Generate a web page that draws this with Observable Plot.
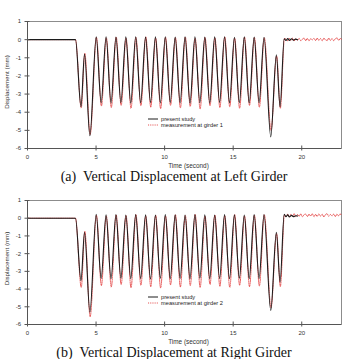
<!DOCTYPE html>
<html>
<head>
<meta charset="utf-8">
<script src="https://cdn.jsdelivr.net/npm/d3@7"></script>
<script src="https://cdn.jsdelivr.net/npm/@observablehq/plot@0.6"></script>
<style>
  body { margin: 0; background: #fff; }
  #page { position: relative; width: 344px; height: 359px; overflow: hidden; background: #fff; }
  .panel { position: absolute; left: 0; }
  .caption {
    position: absolute; left: 0; width: 344px; padding-left: 4px; box-sizing: border-box;
    text-align: center; white-space: pre;
    font-family: "Liberation Serif", "Times New Roman", serif; font-size: 14px; line-height: 14px; color: #111;
  }
  .legend { position: absolute; left: 148px; }
  .legend text { font-family: "Liberation Sans", Arial, sans-serif; font-size: 5.7px; fill: #222; }
</style>
</head>
<body>
<div id="page"></div>
<script>
// Axis setup
const xDomain = [0, 22.9];
const yDomain = [-6, 1];
const xTicks = [0, 5, 10, 15, 20];
const yTicks = [1, 0, -1, -2, -3, -4, -5, -6];
const xLabel = "Time (second)";
const yLabel = "Displacement (mm)";
const seriesNames = ["present study", "measurement at girder"];
const captions = ["(a)  Vertical Displacement at Left Girder", "(b)  Vertical Displacement at Right Girder"];

// Simulated response: turning points of the displacement history, then the short settled tail
const simTime = [
  0, 3.5, 3.9, 4.16, 4.55, 5.01,
  5.37, 5.73, 6.09, 6.45, 6.81, 7.17, 7.53, 7.89, 8.25, 8.61, 8.97, 9.33,
  9.69, 10.05, 10.41, 10.77, 11.13, 11.49, 11.85, 12.21, 12.57, 12.93, 13.29, 13.65,
  14.01, 14.37, 14.73, 15.09, 15.45, 15.81, 16.17, 16.53, 16.89, 17.25,
  17.74, 18.15, 18.42, 18.72,
  18.85, 18.98, 19.1, 19.25, 19.4, 19.55, 19.7
];
const simLeft = [
  0, 0, -3.70, -0.80, -5.30, 0.15,
  -3.47, 0.16,  -3.49, 0.14,  -3.46, 0.15,  -3.50, 0.16,  -3.48, 0.14,  -3.47, 0.15,
  -3.49, 0.16,  -3.46, 0.14,  -3.48, 0.15,  -3.50, 0.16,  -3.47, 0.14,  -3.49, 0.15,
  -3.46, 0.16,  -3.48, 0.13,  -3.47, 0.15,  -3.49, 0.14,  -3.48, 0.13,
  -5.36, -0.83, -3.70, 0.05,
  -0.05, 0.06, -0.04, 0.05, -0.03, 0.03, 0.00
];
const simRight = [
  0, 0, -3.52, -0.79, -5.30, 0.22,
  -3.40, 0.19,  -3.42, 0.20,  -3.39, 0.18,  -3.41, 0.20,  -3.40, 0.19,  -3.43, 0.18,
  -3.39, 0.20,  -3.41, 0.19,  -3.40, 0.18,  -3.42, 0.20,  -3.39, 0.19,  -3.41, 0.18,
  -3.40, 0.20,  -3.42, 0.19,  -3.39, 0.18,  -3.41, 0.20,  -3.40, 0.21,
  -5.21, -0.79, -3.60, 0.22,
  0.08, 0.19, 0.07, 0.16, 0.09, 0.14, 0.12
];

// Measured response: turning points, then the recorded noise after the vehicle leaves
const measTime = [
  0, 3.5, 3.92, 4.18, 4.57, 5.03,
  5.39, 5.75, 6.11, 6.47, 6.83, 7.19, 7.55, 7.91, 8.27, 8.63, 8.99, 9.35,
  9.71, 10.07, 10.43, 10.79, 11.15, 11.51, 11.87, 12.23, 12.59, 12.95, 13.31, 13.67,
  14.03, 14.39, 14.75, 15.11, 15.47, 15.83, 16.19, 16.55, 16.91, 17.27,
  17.76, 18.17, 18.44, 18.74,
  18.85, 18.97, 19.09, 19.21, 19.33, 19.45, 19.57, 19.69, 19.81, 19.93,
  20.05, 20.17, 20.29, 20.41, 20.53, 20.65, 20.77, 20.89, 21.01, 21.13,
  21.25, 21.37, 21.49, 21.61, 21.73, 21.85, 21.97, 22.09, 22.21, 22.33,
  22.45, 22.57, 22.69, 22.81, 22.90
];
const measLeft = [
  0, 0, -3.76, -0.76, -5.22, 0.12,
  -3.66, 0.10,  -3.74, 0.14,  -3.62, 0.08,  -3.78, 0.12,  -3.64, 0.15,  -3.72, 0.09,
  -3.80, 0.13,  -3.62, 0.11,  -3.76, 0.14,  -3.68, 0.08,  -3.82, 0.12,  -3.64, 0.10,
  -3.74, 0.15,  -3.70, 0.09,  -3.78, 0.13,  -3.62, 0.11,  -3.72, 0.10,
  -5.00, -0.90, -3.78, 0.06,
  0.03, -0.06, 0.07, -0.04, 0.08, -0.07, 0.05, -0.03, 0.07, -0.06,
  0.03, 0.08, -0.05, 0.06, -0.07, 0.05, -0.01, 0.07, -0.05, 0.08,
  -0.04, 0.06, -0.06, 0.07, 0.00, -0.05, 0.08, -0.04, 0.06, -0.06,
  0.05, 0.09, -0.03, 0.06, 0.02
];
const measRight = [
  0, 0, -3.90, -0.74, -5.55, 0.16,
  -3.80, 0.12,  -3.88, 0.18,  -3.74, 0.14,  -3.92, 0.20,  -3.78, 0.12,  -3.86, 0.17,
  -3.94, 0.13,  -3.76, 0.19,  -3.88, 0.15,  -3.80, 0.21,  -3.90, 0.12,  -3.74, 0.18,
  -3.84, 0.14,  -3.90, 0.20,  -3.78, 0.13,  -3.86, 0.17,  -3.82, 0.19,
  -5.05, -0.86, -3.86, 0.20,
  0.10, 0.23, 0.08, 0.22, 0.11, 0.25, 0.09, 0.21, 0.12, 0.24,
  0.08, 0.20, 0.23, 0.10, 0.22, 0.13, 0.25, 0.09, 0.21, 0.11,
  0.24, 0.12, 0.22, 0.08, 0.20, 0.25, 0.11, 0.21, 0.13, 0.23,
  0.10, 0.22, 0.14, 0.24, 0.15
];

const simColor = "#1c1c1c";
const measColor = "#e2403f";
const axisColor = "#555";

function displacementPlot(simValues, measValues, {height, marginTop, labelShift}) {
  const sim = simTime.map((t, i) => ({t, v: simValues[i]}));
  const meas = measTime.map((t, i) => ({t, v: measValues[i]}));
  const fmt = d => String(d);
  return Plot.plot({
    width: 344,
    height,
    marginTop,
    marginBottom: 22,
    marginLeft: 27,
    marginRight: 3,
    style: {fontFamily: "'Liberation Sans', Arial, sans-serif", fontSize: "6px", color: "#333", background: "transparent"},
    x: {domain: xDomain},
    y: {domain: yDomain},
    marks: [
      Plot.frame({stroke: "#8c8c8c"}),
      // measurement underneath, so it shows only where it departs from the model
      Plot.line(meas, {x: "t", y: "v", curve: "monotone-x", stroke: measColor, strokeWidth: 0.9, strokeDasharray: "1.1,1.1"}),
      Plot.line(sim, {x: "t", y: "v", curve: "monotone-x", stroke: simColor, strokeWidth: 1.1}),
      Plot.ruleX([xDomain[0]], {stroke: axisColor}),
      Plot.ruleY([yDomain[0]], {stroke: axisColor}),
      // tick marks that straddle the axis lines
      Plot.axisY(yTicks, {tickSize: 5, dx: 2.5, fill: "none", stroke: axisColor, label: null}),
      Plot.axisX(xTicks, {tickSize: 5, dy: -2.5, fill: "none", stroke: axisColor, label: null}),
      // tick labels
      Plot.axisY(yTicks, {tickSize: 3, tickPadding: 3.5, stroke: "none", label: null, tickFormat: fmt, fill: "#333"}),
      Plot.axisX(xTicks, {tickSize: 3, tickPadding: 3, stroke: "none", label: null, tickFormat: fmt, fill: "#333"}),
      Plot.text([yLabel], {frameAnchor: "left", rotate: -90, dx: -20, dy: labelShift, textAnchor: "middle", lineAnchor: "middle", fontSize: 6.2, fill: "#333"}),
      Plot.text([xLabel], {frameAnchor: "bottom", dy: 17, dx: 4, textAnchor: "middle", lineAnchor: "middle", fontSize: 6.4, fill: "#333"})
    ]
  });
}

function legendBox(top, girder) {
  const ns = "http://www.w3.org/2000/svg";
  const box = document.createElementNS(ns, "svg");
  box.setAttribute("class", "legend");
  box.setAttribute("width", "90");
  box.setAttribute("height", "14");
  box.style.top = top + "px";
  box.innerHTML =
    `<line x1="0" x2="10" y1="3" y2="3" stroke="${simColor}" stroke-width="1"/>` +
    `<text x="13" y="3" dy="0.35em">${seriesNames[0]}</text>` +
    `<line x1="0" x2="10" y1="9" y2="9" stroke="${measColor}" stroke-width="0.9" stroke-dasharray="1.1,1.1"/>` +
    `<text x="13" y="9" dy="0.35em">${seriesNames[1]} ${girder}</text>`;
  return box;
}

function caption(text, top) {
  const el = document.createElement("div");
  el.className = "caption";
  el.style.top = top + "px";
  el.textContent = text;
  return el;
}

const page = document.getElementById("page");

const left = displacementPlot(simLeft, measLeft, {height: 170, marginTop: 21, labelShift: -3});
left.classList.add("panel");
left.style.top = "0px";
page.appendChild(left);
page.appendChild(legendBox(116, 1));
page.appendChild(caption(captions[0], 170));

const right = displacementPlot(simRight, measRight, {height: 160, marginTop: 14, labelShift: -4});
right.classList.add("panel");
right.style.top = "186px";
page.appendChild(right);
page.appendChild(legendBox(294, 2));
page.appendChild(caption(captions[1], 346));
</script>
</body>
</html>
